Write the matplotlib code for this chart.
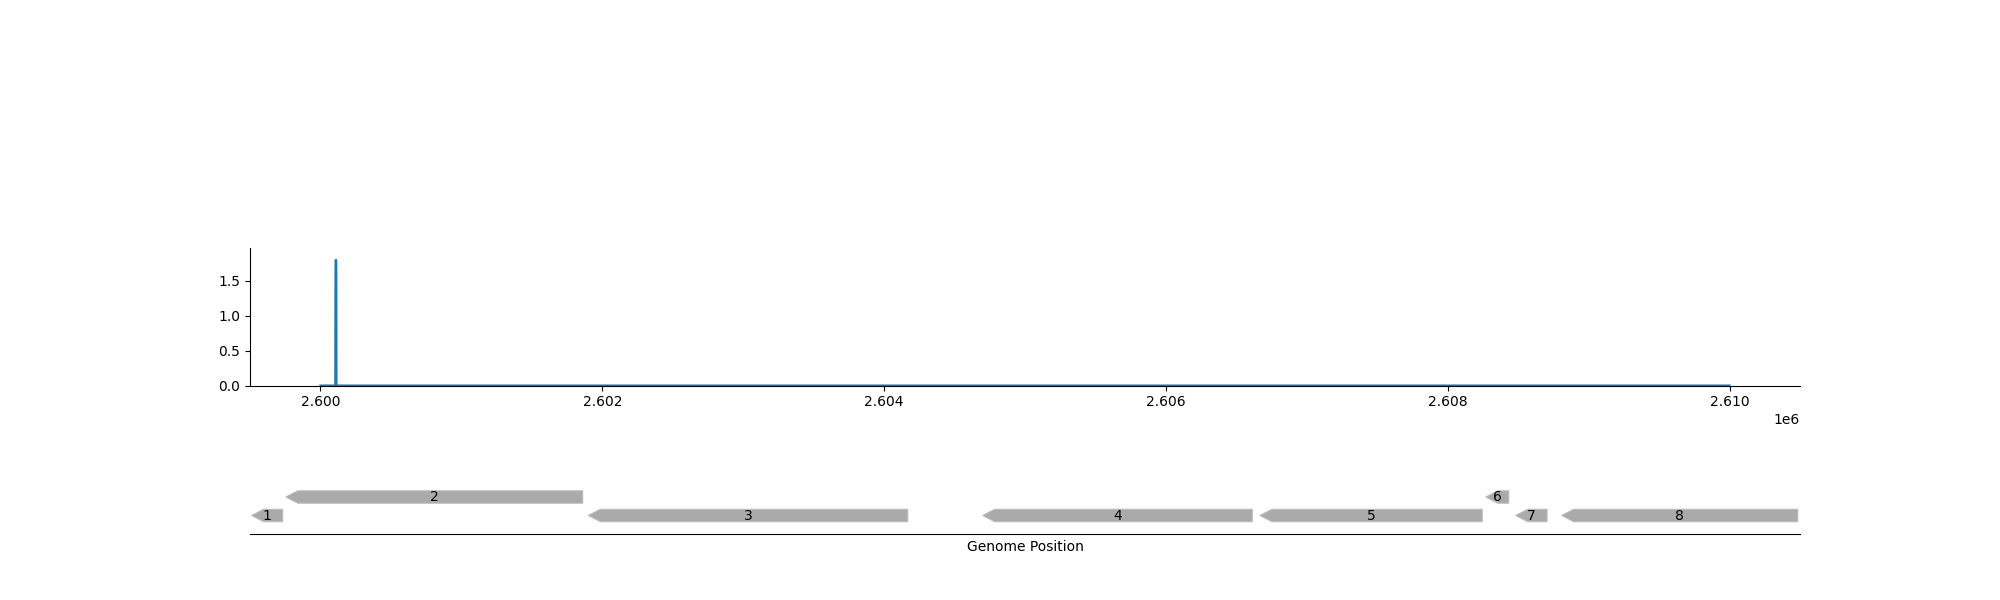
import matplotlib
matplotlib.use("Agg")
import matplotlib.pyplot as plt
from matplotlib.patches import Polygon

# Coverage track
positions = [2600000, 2600105, 2600106, 2600107, 2600112, 2600113, 2600114, 2610000]
coverage = [0.0, 0.0, 1.2, 1.8, 1.8, 1.5, 0.0, 0.0]

# Gene features (start, end, strand, level, label)
feat_labels = ["1", "2", "3", "4", "5", "6", "7", "8"]
feat_starts = [2599512, 2599755, 2601901, 2604700, 2606668, 2608270, 2608483, 2608809]
feat_ends = [2599732, 2601861, 2604168, 2606613, 2608245, 2608433, 2608705, 2610484]
feat_strands = [-1, -1, -1, -1, -1, -1, -1, -1]
feat_levels = [0, 1, 0, 0, 0, 1, 0, 0]

fig = plt.figure(figsize=(20, 6), dpi=100)

ax1 = fig.add_axes([0.125, 0.3575, 0.775, 0.23])
ax1.plot(positions, coverage, color="#1f77b4", lw=1.5)
ax1.set_ylim(0, 1.98)
ax1.set_yticks([0.0, 0.5, 1.0, 1.5])
ax1.spines["top"].set_visible(False)
ax1.spines["right"].set_visible(False)
xlim = ax1.get_xlim()

ax2 = fig.add_axes([0.125, 0.11, 0.775, 0.11])
ax2.set_xlim(xlim)
ax2.set_ylim(0, 66)
for s in ["top", "left", "right"]:
    ax2.spines[s].set_visible(False)
ax2.set_yticks([])
ax2.set_xticks([])
ax2.set_xlabel("Genome Position", fontsize=10)

head = 85  # bp
h = 12.4
row_y = [18.5, 37.0]
for lab, s, e, st, lv in zip(feat_labels, feat_starts, feat_ends, feat_strands, feat_levels):
    yc = row_y[lv]
    hl = min(head, (e - s))
    if st < 0:
        pts = [(s, yc), (s + hl, yc + h / 2), (e, yc + h / 2), (e, yc - h / 2), (s + hl, yc - h / 2)]
    else:
        pts = [(e, yc), (e - hl, yc + h / 2), (s, yc + h / 2), (s, yc - h / 2), (e - hl, yc - h / 2)]
    ax2.add_patch(Polygon(pts, closed=True, facecolor="#aaaaaa", edgecolor="#bbbbbb", lw=0.8))
    ax2.text((s + e) / 2, yc, lab, ha="center", va="center", fontsize=10, color="black")

fig.savefig("out.png", dpi=100)
